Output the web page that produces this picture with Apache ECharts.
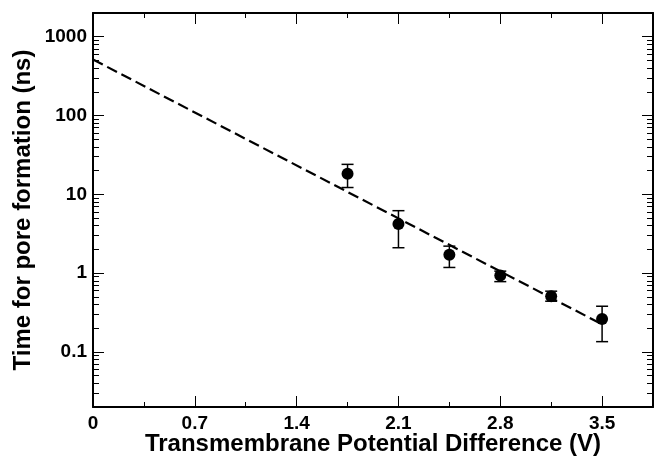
<!DOCTYPE html>
<html>
<head>
<meta charset="utf-8">
<script src="https://cdn.jsdelivr.net/npm/echarts@6/dist/echarts.min.js"></script>
<style>html,body{margin:0;padding:0;background:#fff}#c{width:654px;height:456px}</style>
</head>
<body>
<div id="c"></div>
<script>
// ---- data ----
const voltage = [1.75, 2.10, 2.45, 2.80, 3.15, 3.50];
const poreTime = [18.3, 4.2, 1.71, 0.93, 0.51, 0.262];
const errLow = [12.2, 2.1, 1.18, 0.78, 0.44, 0.135];
const errHigh = [24, 6.2, 2.2, 1.06, 0.59, 0.38];
const fitX = [0, 3.5];
const fitY = [514, 0.224];
const xMajorTicks = [0, 0.7, 1.4, 2.1, 2.8, 3.5];
const xMinorTicks = [0.35, 1.05, 1.75, 2.45, 3.15];
const yMajorTicks = [0.1, 1, 10, 100, 1000];
const yMinorMultipliers = [2, 3, 4, 5, 6, 7, 8, 9];
const yDecades = [0.01, 0.1, 1, 10, 100];

const X_MIN = 0, X_MAX = 3.85, Y_MIN = 0.02, Y_MAX = 2000;
const yMinorTicks = [];
yDecades.forEach(d => yMinorMultipliers.forEach(k => {
  const v = +(k * d).toPrecision(3);
  if (v > Y_MIN && v < Y_MAX) yMinorTicks.push(v);
}));

const FONT = "'Liberation Sans', Arial, Helvetica, sans-serif";
const black = '#000';

function xAx(pos, ticks, len, showLine, showLabel, extra) {
  return Object.assign({
    type: 'value', min: X_MIN, max: X_MAX, position: pos, offset: 0,
    axisLine: { show: showLine, onZero: false, lineStyle: { color: black, width: 2 } },
    axisTick: { show: true, inside: true, length: len, customValues: ticks, lineStyle: { color: black, width: 1 } },
    axisLabel: showLabel ? {
      show: true, customValues: ticks, margin: 7,
      color: black, fontSize: 19, fontWeight: 'bold', fontFamily: FONT,
      formatter: v => v === 0 ? '0' : v.toFixed(1)
    } : { show: false },
    splitLine: { show: false }
  }, extra || {});
}
function yAx(pos, ticks, len, showLine, showLabel, extra) {
  return Object.assign({
    type: 'log', logBase: 10, min: Y_MIN, max: Y_MAX, position: pos, offset: 0,
    axisLine: { show: showLine, onZero: false, lineStyle: { color: black, width: 2 } },
    axisTick: { show: true, inside: true, length: len, customValues: ticks, lineStyle: { color: black, width: 1 } },
    axisLabel: showLabel ? {
      show: true, customValues: ticks, margin: 6,
      color: black, fontSize: 19, fontWeight: 'bold', fontFamily: FONT,
      formatter: v => String(+(+v).toPrecision(3))
    } : { show: false },
    splitLine: { show: false }
  }, extra || {});
}

const chart = echarts.init(document.getElementById('c'), null, { renderer: 'canvas' });
chart.setOption({
  animation: false,
  backgroundColor: '#fff',
  grid: { left: 93, right: 1, top: 13, bottom: 49, containLabel: false, outerBoundsMode: 'none' },
  xAxis: [
    xAx('bottom', xMajorTicks, 11, true, true, {
      name: 'Transmembrane Potential Difference (V)', nameLocation: 'middle', nameGap: 25,
      nameMoveOverlap: false,
      nameTextStyle: { color: black, fontSize: 24, fontWeight: 'bold', fontFamily: FONT }
    }),
    xAx('bottom', xMinorTicks, 5, false, false),
    xAx('top', xMajorTicks, 11, true, false),
    xAx('top', xMinorTicks, 5, false, false)
  ],
  yAxis: [
    yAx('left', yMajorTicks, 11, true, true, {
      name: 'Time for pore formation (ns)', nameLocation: 'middle', nameGap: 58,
      nameMoveOverlap: false,
      nameTextStyle: { color: black, fontSize: 24, fontWeight: 'bold', fontFamily: FONT }
    }),
    yAx('left', yMinorTicks, 6, false, false),
    yAx('right', yMajorTicks, 11, true, false),
    yAx('right', yMinorTicks, 6, false, false)
  ],
  series: [
    {
      type: 'line', xAxisIndex: 0, yAxisIndex: 0,
      data: fitX.map((x, i) => [x, fitY[i]]),
      symbol: 'none', silent: true,
      lineStyle: { color: black, width: 2.2, type: [11, 5] }
    },
    {
      type: 'custom', xAxisIndex: 0, yAxisIndex: 0,
      data: voltage.map((x, i) => [x, errLow[i], errHigh[i]]),
      renderItem: function (params, api) {
        const lo = api.coord([api.value(0), api.value(1)]);
        const hi = api.coord([api.value(0), api.value(2)]);
        const hw = 6;
        const st = { stroke: black, lineWidth: 1.5 };
        return {
          type: 'group',
          children: [
            { type: 'line', shape: { x1: lo[0], y1: lo[1], x2: hi[0], y2: hi[1] }, style: st },
            { type: 'line', shape: { x1: lo[0] - hw, y1: lo[1], x2: lo[0] + hw, y2: lo[1] }, style: st },
            { type: 'line', shape: { x1: hi[0] - hw, y1: hi[1], x2: hi[0] + hw, y2: hi[1] }, style: st }
          ]
        };
      },
      z: 3
    },
    {
      type: 'scatter', xAxisIndex: 0, yAxisIndex: 0,
      data: voltage.map((x, i) => [x, poreTime[i]]),
      symbol: 'circle', symbolSize: 12,
      itemStyle: { color: black, opacity: 1 },
      z: 4
    }
  ]
});
</script>
</body>
</html>
